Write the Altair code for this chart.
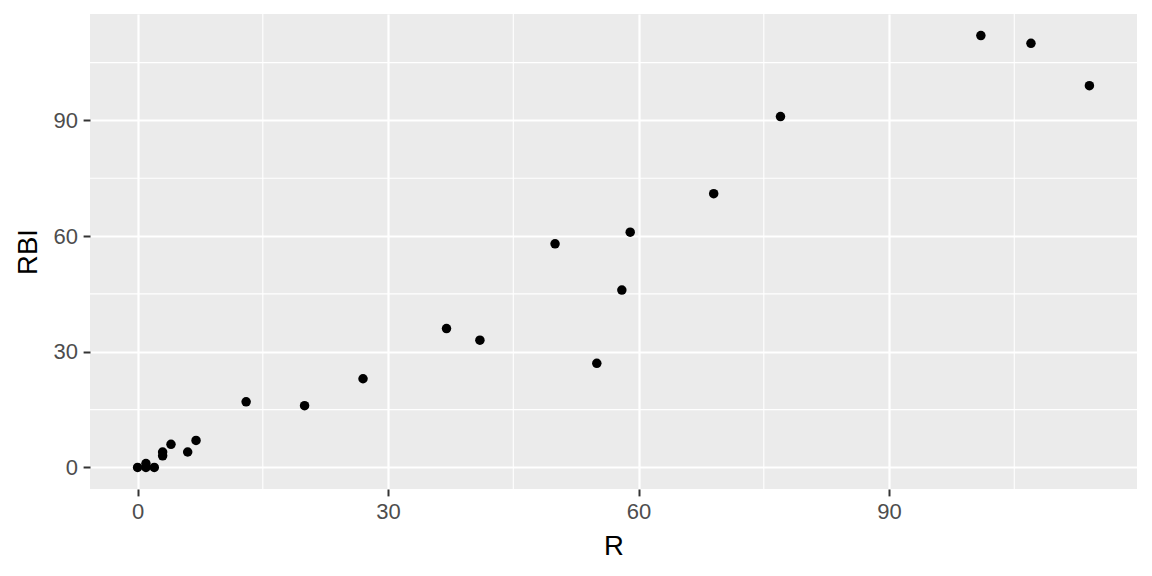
import altair as alt
import pandas as pd

# Data
R = [0, 1, 1, 2, 3, 3, 4, 6, 7, 13, 20, 27, 37, 41, 50, 55, 58, 59, 69, 77, 101, 107, 114]
RBI = [0, 0, 1, 0, 3, 4, 6, 4, 7, 17, 16, 23, 36, 33, 58, 27, 46, 61, 71, 91, 112, 110, 99]

x_major = [0, 30, 60, 90]
x_minor = [15, 45, 75, 105]
y_major = [0, 30, 60, 90]
y_minor = [15, 45, 75, 105]

df = pd.DataFrame({"R": R, "RBI": RBI})
xminor_df = pd.DataFrame({"R": x_minor})
yminor_df = pd.DataFrame({"RBI": y_minor})

xr = max(R) - min(R)
yr = max(RBI) - min(RBI)
xscale = alt.Scale(domain=[min(R) - 0.05 * xr, max(R) + 0.05 * xr], nice=False, zero=False)
yscale = alt.Scale(domain=[min(RBI) - 0.05 * yr, max(RBI) + 0.05 * yr], nice=False, zero=False)

FONT = "Liberation Sans"


def make_axis(values, title, title_pad):
    return alt.Axis(
        values=values,
        title=title,
        grid=True,
        gridColor="white",
        gridWidth=2.2,
        domain=False,
        tickColor="#333333",
        tickSize=6.9,
        tickWidth=2,
        labelFont=FONT,
        labelFontSize=22,
        labelColor="#4D4D4D",
        labelPadding=5.5,
        titleFont=FONT,
        titleFontSize=27.5,
        titleFontWeight="normal",
        titleColor="black",
        titlePadding=title_pad,
    )


xaxis = make_axis(x_major, "R", 10)
yaxis = make_axis(y_major, "RBI", 11)

minor_x = alt.Chart(xminor_df).mark_rule(color="white", strokeWidth=1.1).encode(
    x=alt.X("R:Q", scale=xscale, axis=xaxis)
)
minor_y = alt.Chart(yminor_df).mark_rule(color="white", strokeWidth=1.1).encode(
    y=alt.Y("RBI:Q", scale=yscale, axis=yaxis)
)

points = alt.Chart(df).mark_circle(color="black", size=90, opacity=1).encode(
    x=alt.X("R:Q", scale=xscale, axis=xaxis),
    y=alt.Y("RBI:Q", scale=yscale, axis=yaxis),
)

chart = (
    alt.layer(minor_x, minor_y, points)
    .properties(
        width=1047,
        height=475,
        autosize=alt.AutoSizeParams(type="none"),
        padding={"left": 82, "top": 6, "right": 7, "bottom": 79},
        background="white",
    )
    .configure_view(fill="#EBEBEB", strokeWidth=0)
)

chart.save("out.html", embed_options={"renderer": "svg", "actions": False})
